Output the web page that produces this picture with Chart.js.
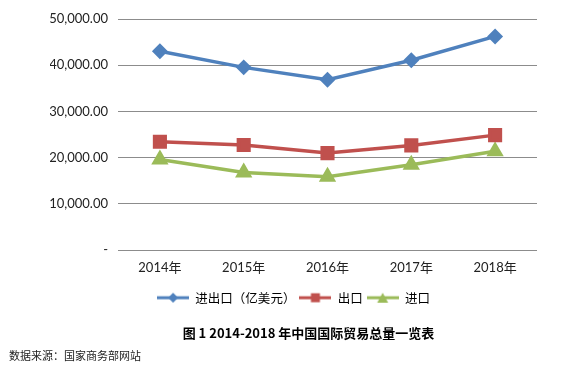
<!DOCTYPE html>
<html>
<head>
<meta charset="utf-8">
<script src="https://cdn.jsdelivr.net/npm/chart.js@4/dist/chart.umd.min.js"></script>
<style>
  body { margin: 0; background: #fff; }
  #wrap { position: relative; width: 579px; height: 380px; }
  #caption { position: absolute; left: 0; width: 617px; top: 323px; text-align: center;
    font: bold 13px "Noto Sans CJK SC", sans-serif; color: #000; }
  #source { position: absolute; left: 9px; top: 347px;
    font: 11px "Noto Sans CJK SC", sans-serif; color: #222; }
</style>
</head>
<body>
<div id="wrap">
  <canvas id="myChart" width="579" height="380"></canvas>
  <div id="caption">图 1 2014-2018 年中国国际贸易总量一览表</div>
  <div id="source">数据来源：国家商务部网站</div>
</div>
<script>
// data
const years = ['2014年', '2015年', '2016年', '2017年', '2018年'];
const total = [43015, 39530, 36856, 41071, 46230];
const exportVals = [23423, 22735, 20976, 22635, 24867];
const importVals = [19592, 16796, 15879, 18437, 21357];
const seriesNames = ['进出口（亿美元）', '出口', '进口'];
const yTicks = [0, 10000, 20000, 30000, 40000, 50000];

const blue = '#4F81BD', red = '#C0504D', green = '#9BBB59';
const FONT = 'Lato, "Noto Sans CJK SC", sans-serif';

// legend icon: line with marker
function legendIcon(color, shape){
  const c = document.createElement('canvas');
  c.width = 32; c.height = 12;
  const g = c.getContext('2d');
  g.strokeStyle = color; g.fillStyle = color; g.lineWidth = 3;
  g.beginPath(); g.moveTo(0, 6); g.lineTo(32, 6); g.stroke();
  g.beginPath();
  if (shape === 'diamond') {
    g.moveTo(16, 1); g.lineTo(21, 6); g.lineTo(16, 11); g.lineTo(11, 6);
  } else if (shape === 'square') {
    g.rect(11.5, 1.5, 9, 9);
  } else {
    g.moveTo(16, 1); g.lineTo(21.5, 11); g.lineTo(10.5, 11);
  }
  g.closePath(); g.fill();
  return c;
}
const icons = [legendIcon(blue, 'diamond'), legendIcon(red, 'square'), legendIcon(green, 'triangle')];

function fmt(v){
  if (v === 0) return '-';
  return v.toLocaleString('en-US', {minimumFractionDigits: 2, maximumFractionDigits: 2});
}

const ctx = document.getElementById('myChart').getContext('2d');
var myChart = new Chart(ctx, {
  type: 'line',
  data: {
    labels: years,
    datasets: [
      { label: seriesNames[0], data: total, borderColor: blue, backgroundColor: blue,
        borderWidth: 3.5, pointStyle: 'rectRot', pointRadius: 5.5, tension: 0 },
      { label: seriesNames[1], data: exportVals, borderColor: red, backgroundColor: red,
        borderWidth: 3.5, pointStyle: 'rect', pointRadius: 7.5, tension: 0 },
      { label: seriesNames[2], data: importVals, borderColor: green, backgroundColor: green,
        borderWidth: 3.5, pointStyle: 'triangle', pointRadius: 6.5, tension: 0 }
    ]
  },
  options: {
    responsive: false,
    animation: false,
    layout: { padding: { top: 19, right: 42, bottom: 66, left: 50 } },
    scales: {
      x: {
        offset: true,
        grid: { display: false, drawTicks: false },
        border: { display: false },
        ticks: { color: '#222', font: { family: FONT, size: 13 }, padding: 10.5 },
        afterFit: s => { s.height = 37.5; }
      },
      y: {
        min: 0, max: 50000,
        afterBuildTicks: s => { s.ticks = yTicks.map(v => ({ value: v })); },
        grid: { color: '#8c8c8c', lineWidth: 1, drawTicks: false },
        border: { display: false },
        ticks: { color: '#222', font: { family: FONT, size: 13 }, padding: 10, callback: v => fmt(v) },
        afterFit: s => { s.width = 68; }
      }
    },
    plugins: {
      legend: {
        position: 'bottom',
        labels: {
          usePointStyle: true,
          pointStyleWidth: 32,
          padding: 4,
          color: '#333',
          font: { family: '"Noto Sans CJK SC", sans-serif', size: 12.5 },
          generateLabels: chart => chart.data.datasets.map((d, i) => ({
            text: d.label, pointStyle: icons[i], datasetIndex: i,
            fillStyle: d.borderColor, strokeStyle: d.borderColor, lineWidth: 0, hidden: false
          }))
        }
      },
      tooltip: { enabled: false }
    }
  }
});
</script>
</body>
</html>
